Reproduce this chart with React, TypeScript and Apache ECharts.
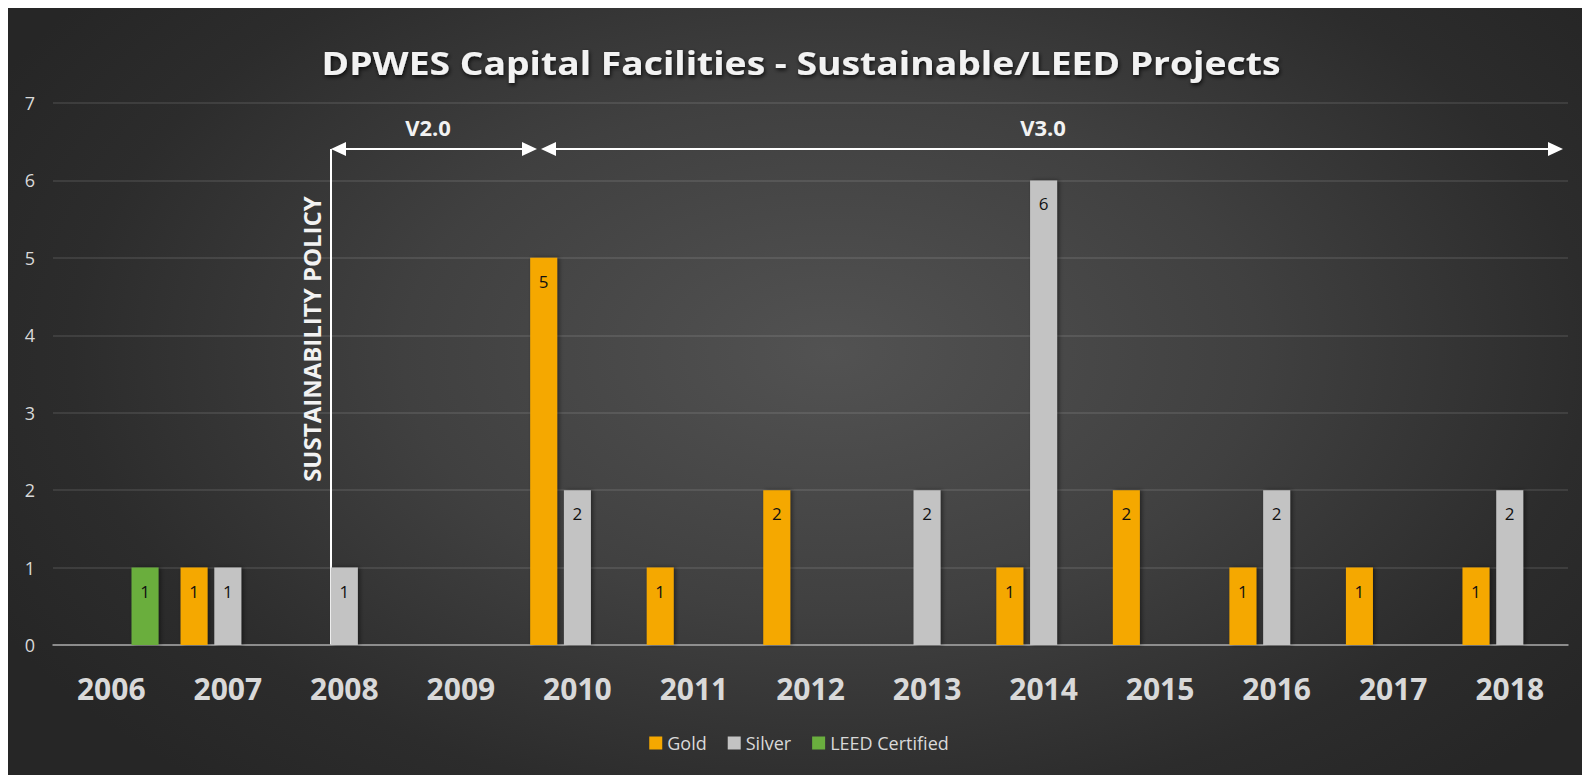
import React, { useEffect, useRef } from "react";
import * as echarts from "echarts";

const years = ["2006", "2007", "2008", "2009", "2010", "2011", "2012", "2013", "2014", "2015", "2016", "2017", "2018"];
const gold = [0, 1, 0, 0, 5, 1, 2, 0, 1, 2, 1, 1, 1];
const silver = [0, 1, 1, 0, 2, 0, 0, 2, 6, 0, 2, 0, 2];
const leedCertified = [1, 0, 0, 0, 0, 0, 0, 0, 0, 0, 0, 0, 0];
const yTicks = [0, 1, 2, 3, 4, 5, 6, 7];

const FONT = "'Open Sans', 'Noto Sans', sans-serif";

function toData(arr: number[]) {
  return arr.map((v) => (v === 0 ? null : v));
}

function barSeries(name: string, data: number[], color: string) {
  return {
    name,
    type: "bar",
    data: toData(data),
    barWidth: 27,
    barGap: "25%",
    itemStyle: {
      color,
      shadowColor: "rgba(0,0,0,0.45)",
      shadowBlur: 4,
      shadowOffsetX: 2,
      shadowOffsetY: 0,
    },
    label: {
      show: true,
      position: "insideTop",
      distance: 15,
      color: "#111",
      fontSize: 17,
      fontFamily: FONT,
      formatter: (p: any) => (p.value ? String(p.value) : ""),
    },
  };
}

function arrow(x1: number, x2: number, y: number) {
  const h = 7;
  const l = 15;
  return [
    { type: "line", shape: { x1: x1 + 4, y1: y, x2: x2 - 4, y2: y }, style: { stroke: "#fff", lineWidth: 2 } },
    { type: "polygon", shape: { points: [[x1, y], [x1 + l, y - h], [x1 + l, y + h]] }, style: { fill: "#fff" } },
    { type: "polygon", shape: { points: [[x2, y], [x2 - l, y - h], [x2 - l, y + h]] }, style: { fill: "#fff" } },
  ];
}

export default function App() {
  const ref = useRef<HTMLDivElement>(null);
  useEffect(() => {
    document.documentElement.style.overflow = "hidden";
    const chart = echarts.init(ref.current!, null, { renderer: "svg" });
    chart.setOption({
      animation: false,
      backgroundColor: "transparent",
      legend: {
        data: ["Gold", "Silver", "LEED Certified"],
        left: "center",
        top: 721,
        icon: "rect",
        itemWidth: 13,
        itemHeight: 13,
        itemGap: 21,
        textStyle: { color: "#d9d9d9", fontSize: 18, fontFamily: FONT },
      },
      grid: { left: 45, right: 22, top: 95, bottom: 130, containLabel: false },
      xAxis: {
        type: "category",
        data: years,
        axisLine: { lineStyle: { color: "#a6a6a6", width: 1.5 } },
        axisTick: { show: false },
        axisLabel: {
          color: "#d9d9d9",
          fontSize: 30,
          fontWeight: "bold",
          fontFamily: FONT,
          margin: 28,
        },
      },
      yAxis: {
        type: "value",
        min: yTicks[0],
        max: yTicks[yTicks.length - 1],
        interval: 1,
        axisLine: { show: false },
        axisTick: { show: false },
        splitLine: { lineStyle: { color: "rgba(255,255,255,0.13)", width: 1.5 } },
        axisLabel: { color: "#d9d9d9", fontSize: 18, fontFamily: FONT, margin: 18 },
      },
      series: [
        barSeries("Gold", gold, "#f5a800"),
        barSeries("Silver", silver, "#c3c3c3"),
        barSeries("LEED Certified", leedCertified, "#6aae3e"),
      ],
      graphic: [
        {
          type: "text",
          x: 793,
          y: 54,
          scaleX: 1.13,
          style: {
            text: "DPWES Capital Facilities - Sustainable/LEED Projects",
            fill: "#f2f2f2",
            font: `bold 33px ${FONT}`,
            align: "center",
            verticalAlign: "middle",
            textShadowColor: "rgba(0,0,0,0.8)",
            textShadowBlur: 4,
            textShadowOffsetX: 1,
            textShadowOffsetY: 2,
          },
        },
        { type: "line", shape: { x1: 323, y1: 141, x2: 323, y2: 637 }, style: { stroke: "#fff", lineWidth: 2 } },
        ...arrow(323, 529, 141),
        ...arrow(533, 1555, 141),
        {
          type: "text",
          x: 420,
          y: 119,
          style: { text: "V2.0", fill: "#f2f2f2", font: `bold 22px ${FONT}`, align: "center", verticalAlign: "middle" },
        },
        {
          type: "text",
          x: 1035,
          y: 119,
          style: { text: "V3.0", fill: "#f2f2f2", font: `bold 22px ${FONT}`, align: "center", verticalAlign: "middle" },
        },
        {
          type: "text",
          x: 303,
          y: 331,
          rotation: Math.PI / 2,
          style: {
            text: "SUSTAINABILITY POLICY",
            fill: "#f2f2f2",
            font: `bold 24px ${FONT}`,
            align: "center",
            verticalAlign: "middle",
          },
        },
      ],
    });
    return () => chart.dispose();
  }, []);
  return (
    <div
      ref={ref}
      style={{
        width: 1582,
        height: 767,
        background: "radial-gradient(ellipse 60% 75% at 52% 45%, #525252 0%, #404040 45%, #2c2c2c 80%, #262626 100%)",
      }}
    />
  );
}
